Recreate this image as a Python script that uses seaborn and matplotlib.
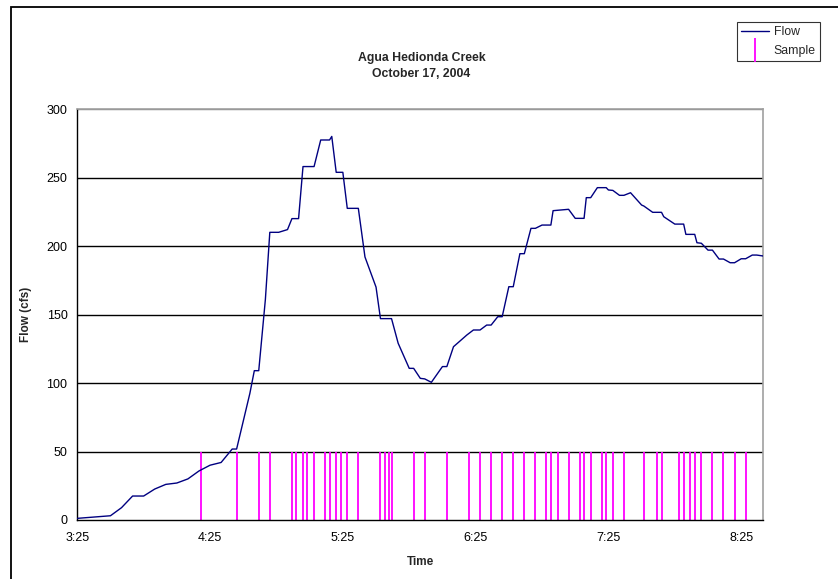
import numpy as np
import pandas as pd
import matplotlib
matplotlib.use("Agg")
import matplotlib.pyplot as plt
import matplotlib.dates as mdates
from matplotlib.lines import Line2D
import seaborn as sns

# ── Data ──────────────────────────────────────────────────────────────────────
DATE = "2004-10-17"

flow_times = [
    "3:25", "3:40", "3:45", "3:50", "3:55", "4:00", "4:05", "4:10", "4:15", "4:20",
    "4:25", "4:30", "4:35", "4:37", "4:43", "4:45", "4:47", "4:50", "4:52", "4:56",
    "5:00", "5:02", "5:05", "5:07", "5:12", "5:15", "5:19", "5:20", "5:22", "5:25",
    "5:27", "5:32", "5:35", "5:40", "5:42", "5:47", "5:50", "5:55", "5:57", "6:00",
    "6:02", "6:05", "6:10", "6:12", "6:15", "6:21", "6:24", "6:27", "6:30", "6:32",
    "6:35", "6:37", "6:40", "6:42", "6:45", "6:47", "6:50", "6:52", "6:55", "6:59",
    "7:00", "7:07", "7:10", "7:14", "7:15", "7:17", "7:20", "7:24", "7:25", "7:27",
    "7:30", "7:32", "7:35", "7:40", "7:41", "7:45", "7:49", "7:50", "7:55", "7:59",
    "8:00", "8:04", "8:05", "8:07", "8:10", "8:12", "8:15", "8:17", "8:20", "8:22",
    "8:25", "8:27", "8:30", "8:32", "8:35",
]
flow_cfs = [
    1.2, 3.1, 9.0, 17.5, 17.5, 22.6, 26.0, 27.0, 30.0, 35.8,
    40.0, 42.0, 51.8, 51.8, 92.5, 109.0, 109.0, 161.0, 210.0, 210.0,
    212.0, 220.0, 220.0, 258.0, 258.0, 277.4, 277.4, 280.0, 253.8, 253.8,
    227.5, 227.5, 192.0, 170.0, 147.0, 147.0, 129.0, 110.7, 110.7, 103.4,
    103.0, 100.5, 112.0, 112.0, 126.5, 135.0, 138.7, 138.7, 142.3, 142.3,
    148.4, 148.4, 170.3, 170.3, 194.4, 194.4, 212.9, 212.9, 215.3, 215.3,
    225.8, 226.8, 220.2, 220.2, 235.3, 235.3, 242.6, 242.6, 240.9, 240.6,
    237.0, 237.0, 238.9, 229.9, 229.2, 224.6, 224.6, 221.4, 216.0, 216.0,
    208.5, 208.5, 202.4, 202.0, 197.0, 197.0, 190.5, 190.5, 187.8, 187.8,
    190.7, 190.7, 193.4, 193.4, 192.7,
]

sample_times = [
    "4:21", "4:37", "4:47", "4:52", "5:02", "5:04", "5:07", "5:09", "5:12", "5:17",
    "5:19", "5:22", "5:24", "5:27", "5:32", "5:42", "5:44", "5:46", "5:47", "5:57",
    "6:02", "6:12", "6:22", "6:27", "6:32", "6:37", "6:42", "6:47", "6:52", "6:57",
    "6:59", "7:02", "7:07", "7:12", "7:14", "7:17", "7:22", "7:24", "7:27", "7:32",
    "7:41", "7:47", "7:49", "7:57", "7:59", "8:02", "8:04", "8:07", "8:12", "8:17",
    "8:22", "8:27",
]
SAMPLE_HEIGHT = 50

Y_TICKS = [0, 50, 100, 150, 200, 250, 300]
X_START, X_END = "3:25", "8:35"


def to_dt(times):
    return pd.to_datetime([f"{DATE} {t}" for t in times])


def main():
    flow_df = pd.DataFrame({"time": to_dt(flow_times), "flow": flow_cfs})
    samples = to_dt(sample_times)

    sns.set_theme(style="white")
    plt.rcParams["font.family"] = ["Liberation Sans", "DejaVu Sans"]

    fig = plt.figure(figsize=(8.38, 5.79), dpi=100)
    ax = fig.add_axes([0.0922, 0.1019, 0.8187, 0.7098])

    # grid lines
    for yv in Y_TICKS[1:]:
        ax.axhline(yv, color="black" if yv < 300 else "#808080", lw=1.0, zorder=1)

    sns.lineplot(data=flow_df, x="time", y="flow", ax=ax, color="#000080",
                 lw=1.0, zorder=3, legend=False)
    ax.vlines(samples, 0, SAMPLE_HEIGHT, color="#FF00FF", lw=1.3, zorder=2)

    ax.set_xlim(to_dt([X_START])[0], to_dt([X_END])[0])
    ax.set_ylim(0, 300)
    ax.set_yticks(Y_TICKS)
    ax.xaxis.set_major_locator(mdates.MinuteLocator(byminute=[25]))
    ax.xaxis.set_major_formatter(mdates.DateFormatter("%-H:%M"))
    ax.tick_params(axis="both", direction="out", length=3.5, width=0.8,
                   labelsize=9, pad=3.5, colors="black")
    ax.tick_params(axis="x", pad=5)

    for side in ("left", "bottom"):
        ax.spines[side].set_color("black")
        ax.spines[side].set_linewidth(1.0)
    for side in ("right", "top"):
        ax.spines[side].set_color("#a0a0a0")
        ax.spines[side].set_linewidth(1.2)

    ax.set_xlabel("Time", fontsize=8.5, fontweight="bold")
    ax.set_ylabel("Flow (cfs)", fontsize=8.5, fontweight="bold")
    ax.xaxis.set_label_coords(0.5, -0.088)
    ax.yaxis.set_label_coords(-0.066, 0.5)

    fig.text(0.503, 1 - 66 / 579, "Agua Hedionda Creek\nOctober 17, 2004",
             ha="center", va="center", fontsize=8.8, fontweight="bold",
             linespacing=1.45)

    handles = [
        Line2D([], [], color="#000080", lw=1.0),
        Line2D([], [], color="#FF00FF", lw=0, marker="|", markersize=17,
               markeredgewidth=1.3),
    ]
    leg = fig.legend(handles, ["Flow", "Sample"], loc="upper left",
                     bbox_to_anchor=(737 / 838, 1 - 22 / 579), borderaxespad=0,
                     fontsize=8.8, frameon=True, fancybox=False,
                     handlelength=2.3, handletextpad=0.35, labelspacing=0.55,
                     borderpad=0.35)
    leg.get_frame().set_edgecolor("black")
    leg.get_frame().set_linewidth(0.8)

    # outer chart frame (runs off the right and bottom edges)
    frame = plt.Rectangle((11 / 838, -0.2), 1.2, 0.2 + 1 - 7 / 579,
                          transform=fig.transFigure, fill=False,
                          edgecolor="black", lw=1.3)
    fig.patches.append(frame)

    fig.savefig("out.png", dpi=100, facecolor="white")
    plt.close(fig)


if __name__ == "__main__":
    main()
